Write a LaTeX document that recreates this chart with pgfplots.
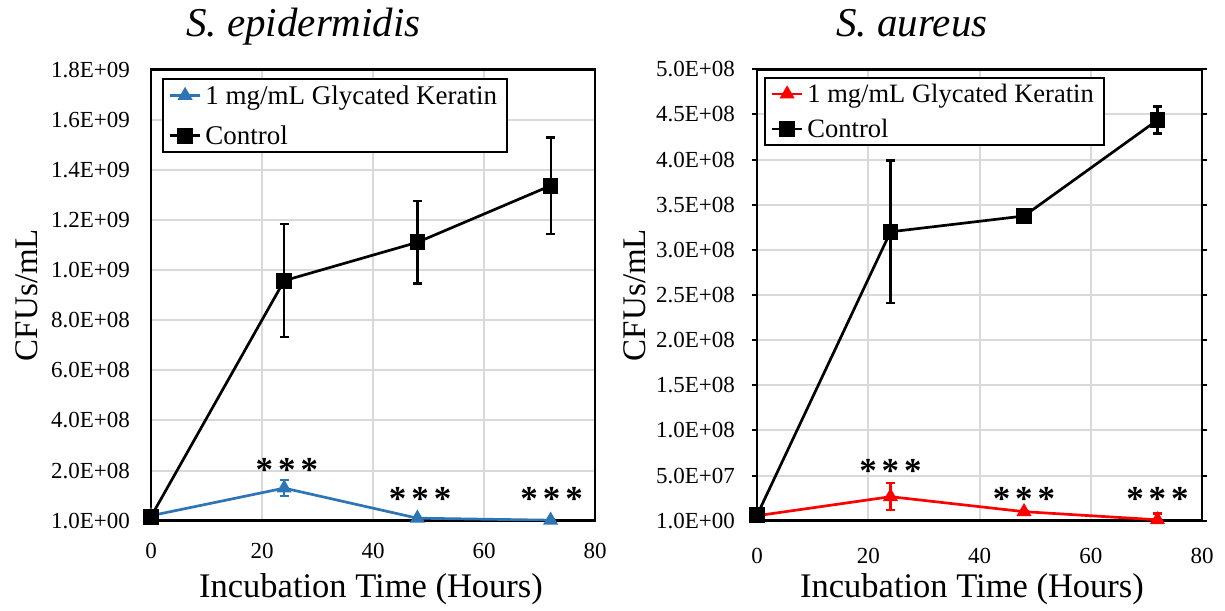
\documentclass[border=0pt]{standalone}
\usepackage{pgfplots}
\pgfplotsset{compat=1.18}
\usepackage{fontspec}
\setmainfont{Liberation Serif}

\definecolor{gkblue}{RGB}{46,117,182}
\definecolor{gkred}{RGB}{255,0,0}
\definecolor{gridgray}{RGB}{217,217,217}

\newcommand{\stars}{\bfseries*\hspace{5pt}*\hspace{5pt}*}
\newcommand{\starfont}{\fontsize{35}{35}\selectfont}

\pgfplotsset{
  cfu/.style={
    scale only axis,
    xmin=0, xmax=80,
    xtick={0,20,40,60,80},
    xticklabels={0,20,40,60,80},
    scaled y ticks=false,
    grid=major,
    major grid style={draw=gridgray, line width=2pt},
    axis line style={line width=2.7pt},
    /pgf/number format/assume math mode=true,
    ticklabel style={font=\fontsize{23}{23}\selectfont},
    xticklabel style={inner sep=0pt, anchor=north, yshift=-22pt},
    yticklabel style={inner sep=0pt, anchor=east},
    xtick style={draw=none},
    legend cell align=left,
    legend style={draw=black, line width=2.2pt, anchor=north west,
      inner xsep=6pt, inner ysep=2pt,
      nodes={inner sep=4pt}},
    legend image code/.code={
      \draw[mark repeat=2, mark phase=2, #1]
        plot coordinates {(0pt,0pt) (15pt,0pt) (30pt,0pt)};},
    error bars/y dir=both,
    error bars/y explicit,
  },
  gk/.style={color=#1, line width=2.7pt, mark=triangle*, mark size=6pt,
    mark options={solid, fill=#1},
    error bars/error bar style={color=#1, line width=2.2pt},
    error bars/error mark options={color=#1, mark size=4.5pt, line width=2.2pt, rotate=90}},
  ctrl/.style={color=black, line width=2.7pt, mark=square*, mark size=6.5pt,
    mark options={solid, fill=black},
    error bars/error bar style={color=black, line width=2.2pt},
    error bars/error mark options={color=black, mark size=4.5pt, line width=2.2pt, rotate=90}},
}

\begin{document}
\begin{tikzpicture}[x=1pt, y=1pt]
\useasboundingbox (0,0) rectangle (1225,610);

% ---- S. epidermidis ----
\begin{axis}[cfu,
  at={(151pt,89.3pt)}, anchor=origin,
  width=444pt, height=451pt,
  ymin=0, ymax=1.8e9,
  ytick={0,2e8,4e8,6e8,8e8,1e9,1.2e9,1.4e9,1.6e9,1.8e9},
  yticklabels={1.0E+00,2.0E+08,4.0E+08,6.0E+08,8.0E+08,1.0E+09,1.2E+09,1.4E+09,1.6E+09,1.8E+09},
  ytick style={draw=none},
  yticklabel style={xshift=-21pt},
  legend style={at={(rel axis cs:0.024,0.981)},
    font=\fontsize{27}{27}\selectfont, row sep=12pt},
]
\addplot+[gk=gkblue] coordinates {
  (0,2.0e7) +- (0,0)
  (24,1.30e8) +- (0,3.1e7)
  (48,1.0e7) +- (0,2e6)
  (72,2.0e6) +- (0,1e6)
};
\addlegendentry{1 mg/mL Glycated Keratin}
\addplot+[ctrl] coordinates {
  (0,1.6e7) +- (0,0)
  (24,9.58e8) +- (0,2.26e8)
  (48,1.111e9) +- (0,1.64e8)
  (72,1.337e9) +- (0,1.92e8)
};
\addlegendentry{Control}
\node[font=\starfont, anchor=base] at (axis cs:24.5,1.58e8) {\stars};
\node[font=\starfont, anchor=base] at (axis cs:48.5,4.1e7) {\stars};
\node[font=\starfont, anchor=base] at (axis cs:72.2,4.1e7) {\stars};
\end{axis}

% ---- S. aureus ----
\begin{axis}[cfu,
  at={(757pt,89.3pt)}, anchor=origin,
  width=445pt, height=451.4pt,
  ymin=0, ymax=5e8,
  ytick={0,5e7,1e8,1.5e8,2e8,2.5e8,3e8,3.5e8,4e8,4.5e8,5e8},
  yticklabels={1.0E+00,5.0E+07,1.0E+08,1.5E+08,2.0E+08,2.5E+08,3.0E+08,3.5E+08,4.0E+08,4.5E+08,5.0E+08},
  tick align=outside,
  major tick length=5pt,
  ytick style={draw=black, line width=2pt},
  yticklabel style={xshift=-17pt},
  legend style={at={(rel axis cs:0.015,0.983)},
    font=\fontsize{26.5}{26.5}\selectfont, row sep=7pt},
]
\addplot+[gk=gkred] coordinates {
  (0,5.5e6) +- (0,0)
  (24,2.66e7) +- (0,1.5e7)
  (48,1.0e7) +- (0,1e6)
  (72,1.0e6) +- (0,7e6)
};
\addlegendentry{1 mg/mL Glycated Keratin}
\addplot+[ctrl] coordinates {
  (0,6.0e6) +- (0,0)
  (24,3.20e8) +- (0,7.9e7)
  (48,3.375e8) +- (0,2e6)
  (72,4.438e8) +- (0,1.5e7)
};
\addlegendentry{Control}
\node[font=\starfont, anchor=base] at (axis cs:24,4.27e7) {\stars};
\node[font=\starfont, anchor=base] at (axis cs:48,1.13e7) {\stars};
\node[font=\starfont, anchor=base] at (axis cs:72,1.13e7) {\stars};
\end{axis}

% titles and axis titles
\node[anchor=base, font=\fontsize{41}{41}\selectfont\itshape] at (303.5,573) {S. epidermidis};
\node[anchor=base, font=\fontsize{41}{41}\selectfont\itshape] at (912,573) {S. aureus};
\node[anchor=base, font=\fontsize{34.5}{34.5}\selectfont] at (371,13) {Incubation Time (Hours)};
\node[anchor=base, font=\fontsize{34.5}{34.5}\selectfont] at (972,13) {Incubation Time (Hours)};
\node[anchor=base, rotate=90, font=\fontsize{33}{33}\selectfont] at (37,315) {CFUs/mL};
\node[anchor=base, rotate=90, font=\fontsize{33}{33}\selectfont] at (645,315) {CFUs/mL};
\end{tikzpicture}
\end{document}
